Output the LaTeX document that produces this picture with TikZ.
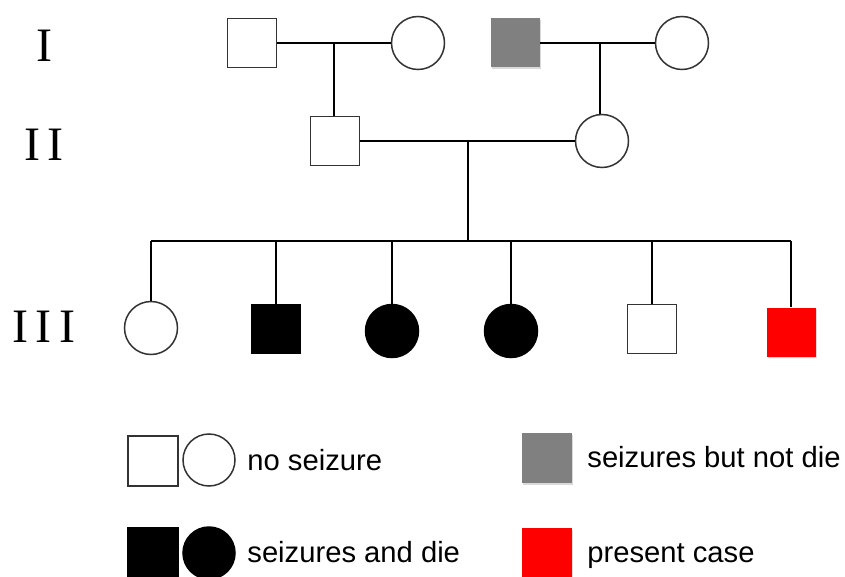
\documentclass[tikz,border=0pt]{standalone}
\usepackage{fontspec}
\setmainfont{Liberation Sans}
\newfontfamily\genfont{Liberation Serif}
\usetikzlibrary{calc,positioning,shadows}

\tikzset{
  male/.style={rectangle,draw=black!80,line width=0.75pt,minimum size=24.5pt,inner sep=0pt,fill=white},
  female/.style={circle,draw=black!80,line width=0.75pt,minimum size=26.5pt,inner sep=0pt,fill=white},
  died/.style={fill=black,draw=black},
  sick/.style={fill=gray,draw=none,drop shadow={opacity=0.3,shadow xshift=0.5pt,shadow yshift=-0.8pt}},
  index/.style={fill=red,draw=none,drop shadow={opacity=0.3,shadow xshift=0.5pt,shadow yshift=-0.8pt}},
  gen/.style={font=\genfont\fontsize{24}{26}\selectfont},
  keytext/.style={anchor=base west,inner sep=0pt,font=\fontsize{14.6}{17}\selectfont},
  link/.style={line width=1pt,black}
}

\begin{document}
\begin{tikzpicture}[x=0.5pt,y=-0.5pt]
\useasboundingbox (0,0) rectangle (845,577);

% generations
\node[gen] (g1) at (44,46){I};
\node[gen] (g2) at (44,145){I\,I};
\node[gen] (g3) at (44,327){I\,I\,I};

% generation I
\node[male] (I1) at (252,43){};
\node[female] (I2) at (418,43){};
\node[male,sick] (I3) at (515,43){};
\node[female] (I4) at (682,43){};

% generation II
\node[male] (II1) at (335,141){};
\node[female] (II2) at (602,141){};

% generation III
\node[female] (III1) at (151,328){};
\node[male,died] (III2) at (276,329){};
\node[female,died] (III3) at (392,331){};
\node[female,died] (III4) at (511,331){};
\node[male] (III5) at (652,329){};
\node[male,index] (III6) at (791,332){};

% couples and descent
\coordinate (m1) at ($(I1.east)!0.5!(I2.west)$);
\coordinate (m2) at ($(I3.east)!0.52!(I4.west)$);
\coordinate (m3) at ($(II1.east)!0.5!(II2.west)$);
\coordinate (sib) at (470,241);
\draw[link] (I1) -- (I2);
\draw[link] (I3) -- (I4);
\draw[link] (II1) -- (II2);
\draw[link] (m1) -- (m1 |- II1.north);
\draw[link] (m2) -- (m2 |- II2.north);
\draw[link] (m3) -- (m3 |- sib);
\draw[link] (III1 |- sib) -- (III6 |- sib);
\foreach \c in {III1,III2,III3,III4,III5,III6}
  \draw[link] (\c |- sib) -- (\c.north);

% key
\node[male,minimum size=25pt] (k1) at (153,461){};
\node[female,minimum size=26pt] (k2) at (209,460){};
\node[keytext] (t1) at (247,470){no seizure};
\node[male,sick,minimum size=25pt] (k3) at (547,458){};
\node[keytext] (t2) at (587,467){seizures but not die};
\node[male,died,minimum size=25pt] (k4) at (153,553){};
\node[female,died,minimum size=26pt] (k5) at (209,553){};
\node[keytext] (t3) at (247,562){seizures and die};
\node[male,index,minimum size=25pt] (k6) at (547,553){};
\node[keytext] (t4) at (587,562){present case};
\end{tikzpicture}
\end{document}
